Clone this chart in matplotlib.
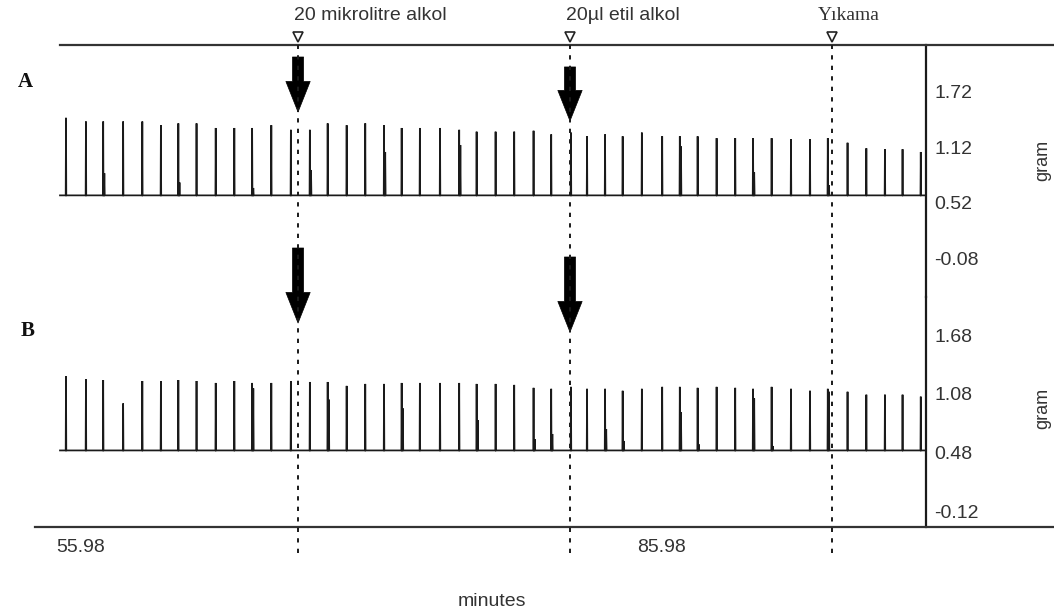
import matplotlib
matplotlib.use("Agg")
import matplotlib.pyplot as plt
from matplotlib.lines import Line2D
from matplotlib import transforms

plt.rcParams["font.family"] = ["Liberation Sans", "DejaVu Sans"]
plt.rcParams["axes.unicode_minus"] = False

# ---------------- data ----------------
spike_times = [55.21, 56.24, 57.13, 58.16, 59.15, 60.11, 61.01, 61.95, 62.94, 63.90,
               64.82, 65.81, 66.82, 67.80, 68.72, 69.70, 70.66, 71.63, 72.54, 73.48,
               74.52, 75.51, 76.41, 77.39, 78.35, 79.35, 80.26, 81.28, 82.11, 83.04,
               83.95, 84.94, 85.99, 86.90, 87.82, 88.80, 89.76, 90.68, 91.64, 92.64,
               93.62, 94.54, 95.56, 96.53, 97.49, 98.40, 99.34]

peaks_a = [1.44, 1.40, 1.40, 1.40, 1.40, 1.36, 1.38, 1.38, 1.33, 1.33,
           1.33, 1.36, 1.31, 1.31, 1.38, 1.36, 1.38, 1.36, 1.33, 1.33,
           1.33, 1.31, 1.29, 1.29, 1.29, 1.30, 1.26, 1.28, 1.24, 1.26,
           1.24, 1.28, 1.24, 1.24, 1.24, 1.22, 1.22, 1.22, 1.22, 1.21,
           1.21, 1.22, 1.17, 1.11, 1.10, 1.10, 1.07]
second_a = [0, 0, 0.84, 0, 0, 0, 0.74, 0, 0, 0,
            0.68, 0, 0, 0.875, 0, 0, 0, 1.07, 0, 0,
            0, 1.145, 0, 0, 0, 0, 0, 0, 0, 0,
            0, 0, 0, 1.13, 0, 0, 0, 0.85, 0, 0,
            0, 0.71, 0, 0, 0, 0, 0]

peaks_b = [1.26, 1.23, 1.22, 0.98, 1.21, 1.21, 1.22, 1.21, 1.19, 1.21,
           1.19, 1.19, 1.21, 1.20, 1.20, 1.16, 1.18, 1.18, 1.19, 1.19,
           1.19, 1.19, 1.18, 1.18, 1.17, 1.14, 1.13, 1.15, 1.13, 1.13,
           1.11, 1.13, 1.15, 1.15, 1.14, 1.15, 1.14, 1.13, 1.15, 1.13,
           1.11, 1.13, 1.10, 1.07, 1.07, 1.07, 1.05]
second_b = [0, 0, 0, 0, 0, 0, 0, 0, 0, 0,
            1.135, 0, 0, 0, 1.02, 0, 0, 0, 0.93, 0,
            0, 0, 0.81, 0, 0, 0.615, 0.668, 0, 0, 0.719,
            0.597, 0, 0, 0.893, 0.562, 0, 0, 1.032, 0.545, 0,
            0, 1.10, 0, 0, 0, 0, 0]

baseline_a = 0.60
baseline_b = 0.50
trace_start = 54.90
trace_end = 99.61

events = [67.19, 81.23, 94.76]
event_labels = ["20 mikrolitre alkol", "20\u00b5l etil alkol", "Y\u0131kama"]
x_ticks = [55.98, 85.98]
ticks_a = [1.72, 1.12, 0.52, -0.08]
ticks_b = [1.68, 1.08, 0.48, -0.12]
x_label = "minutes"
y_label = "gram"
panel_labels = ["A", "B"]


def build_trace(times, peaks, seconds, base, t0, t1):
    xs, ys = [t0], [base]
    for t, p, s in zip(times, peaks, seconds):
        xs += [t - 0.015, t, t + 0.015]
        ys += [base, p, base]
        if s > 0:
            xs += [t + 0.04, t + 0.06, t + 0.08]
            ys += [base, s, base]
    xs.append(t1)
    ys.append(base)
    return xs, ys


W, H = 1054, 616
fig = plt.figure(figsize=(W / 100, H / 100), dpi=100)

def fx(px):
    return px / W

def fy(py):
    return 1 - py / H

left, right = 35, 926
axA = fig.add_axes([fx(left), fy(297), (right - left) / W, 252 / H])
axB = fig.add_axes([fx(left), fy(527), (right - left) / W, 230 / H])

line_col = "#1a1a1a"
text_col = "#333333"

for ax, peaks, seconds, base, ticks, ylim in [
    (axA, peaks_a, second_a, baseline_a, ticks_a, (-0.501, 2.229)),
    (axB, peaks_b, second_b, baseline_b, ticks_b, (-0.283, 2.069)),
]:
    xs, ys = build_trace(spike_times, peaks, seconds, base, trace_start, trace_end)
    ax.plot(xs, ys, color=line_col, lw=1.25, solid_joinstyle="miter")
    ax.set_xlim(53.61, 99.61)
    ax.set_ylim(*ylim)
    for s in ["top", "left", "bottom"]:
        ax.spines[s].set_visible(False)
    ax.spines["right"].set_linewidth(1.6)
    ax.spines["right"].set_color(line_col)
    ax.yaxis.tick_right()
    ax.set_yticks(ticks)
    ax.set_yticklabels(["%.2f" % v for v in ticks])
    ax.tick_params(axis="y", length=0, pad=6, labelsize=14, labelcolor=text_col)
    ax.patch.set_alpha(0)

axA.set_xticks([])
axB.set_xticks(x_ticks)
axB.set_xticklabels(["%.2f" % v for v in x_ticks])
axB.tick_params(axis="x", length=0, pad=9, labelsize=14, labelcolor=text_col)

# frame lines
fig.add_artist(Line2D([fx(60), 1], [fy(45), fy(45)], transform=fig.transFigure,
                      color="#333333", lw=1.6))
fig.add_artist(Line2D([fx(35), 1], [fy(527), fy(527)], transform=fig.transFigure,
                      color="#333333", lw=1.6))

# event markers, dashed lines, labels
blend = transforms.blended_transform_factory(axB.transData, fig.transFigure)
offsets = [-3, -3, -10]
for t, lab, off in zip(events, event_labels, offsets):
    fig.add_artist(Line2D([t, t], [fy(553), fy(45)], transform=blend,
                          color=line_col, lw=1.4, ls=(0, (2.2, 3.2))))
    fig.add_artist(Line2D([t], [fy(37)], transform=blend, marker="v", ms=7,
                          mfc="white", mec="#222222", mew=1.2, ls="none"))
    fam = ["Liberation Serif"] if lab.startswith("Y") else ["Liberation Sans"]
    axB.annotate(lab, xy=(t, fy(15)), xycoords=("data", "figure fraction"),
                 xytext=(off, 0), textcoords="offset points", ha="left",
                 va="center", fontsize=14, color=text_col, family=fam,
                 annotation_clip=False)

# arrows (first two events)
arrow_style = "simple,head_length=2.2,head_width=1.75,tail_width=0.8"
arrow_a = [(2.099, 1.503), (1.991, 1.406)]
arrow_b = [(2.57, 1.803), (2.478, 1.711)]
for ax, spec in [(axA, arrow_a), (axB, arrow_b)]:
    for t, (top, tip) in zip(events[:2], spec):
        ax.annotate("", xy=(t, tip), xytext=(t, top),
                    arrowprops=dict(arrowstyle=arrow_style, fc="black", ec="black",
                                    mutation_scale=10, shrinkA=0, shrinkB=0, lw=0.5),
                    annotation_clip=False)

# texts
fig.text(fx(25), fy(82), panel_labels[0], family="Liberation Serif", weight="bold",
         fontsize=15, ha="center", va="center", color="#111111")
fig.text(fx(28), fy(331), panel_labels[1], family="Liberation Serif", weight="bold",
         fontsize=15, ha="center", va="center", color="#111111")
fig.text(fx(1043), fy(160), y_label, rotation=90, fontsize=13, ha="center",
         va="center", color=text_col)
fig.text(fx(1043), fy(408), y_label, rotation=90, fontsize=13, ha="center",
         va="center", color=text_col)
fig.text(fx(492), fy(602), x_label, fontsize=14, ha="center", va="center",
         color=text_col)

fig.savefig("out.png", dpi=100)
